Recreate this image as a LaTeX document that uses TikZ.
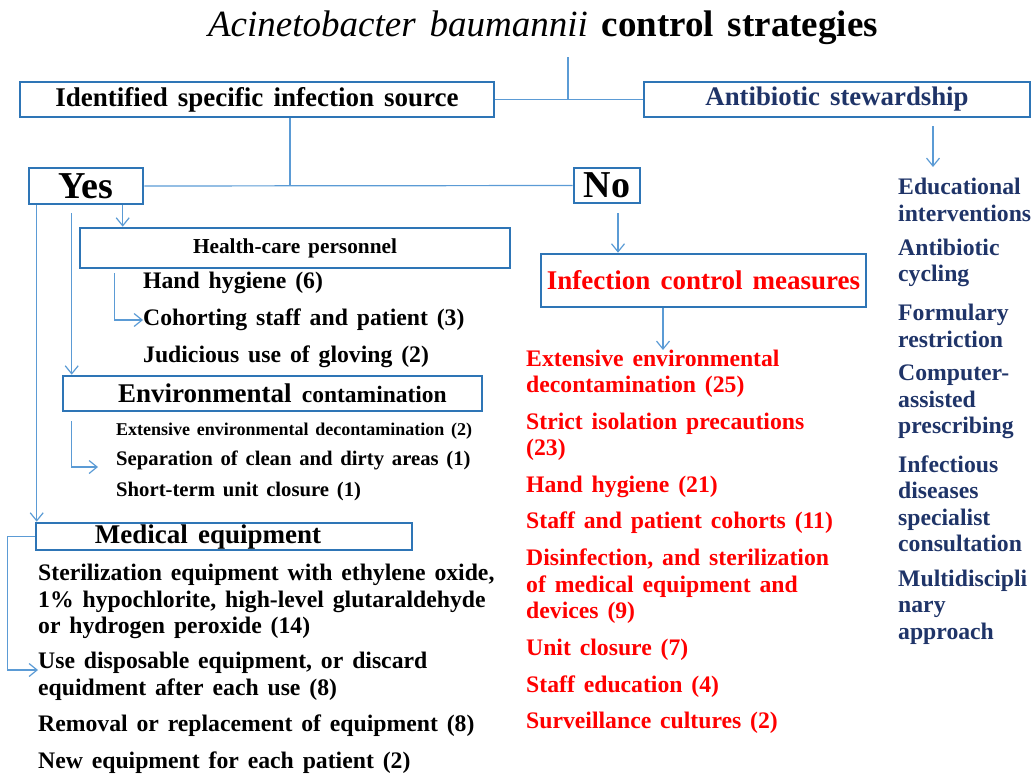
\documentclass[tikz,border=0pt]{standalone}
\usepackage{fontspec}
\setmainfont{Liberation Serif}[WordSpace=1.5]
\usetikzlibrary{positioning,arrows.meta}
\definecolor{boxblue}{HTML}{2E75B6}
\definecolor{lineblue}{HTML}{5B9BD5}
\definecolor{navy}{HTML}{1F3468}
\definecolor{alert}{HTML}{FF0000}

\begin{document}
\begin{tikzpicture}[x=1pt,y=-1pt,
    box/.style={rectangle,draw=boxblue,line width=2.6pt,fill=white,
		inner sep=0pt,font=\bfseries},
    link/.style={draw=lineblue,line width=1.2pt},
    arr/.style={link,-{Straight Barb[length=8pt,width=13pt,line width=1.2pt]}},
% list entries
    entry/.style={anchor=west,align=left,inner sep=0pt,
		font=\bfseries\fontsize{23.7}{26.5}\selectfont},
    small/.style={entry,font=\bfseries\fontsize{20.7}{24}\selectfont},
    redentry/.style={entry,text=alert},
    blueentry/.style={entry,text=navy}
    ]
   \useasboundingbox (0,0) rectangle (1032,776);

%%% title and first level
   \node [inner sep=0pt] (ttl) at (543,28)
      {\fontsize{37}{40}\selectfont\textit{Acinetobacter baumannii} \textbf{control strategies}};
   \node [box,minimum width=474pt,minimum height=35pt] (src) at (257,99.5)
      {\fontsize{27}{30}\selectfont Identified specific infection source};
   \node [box,minimum width=386pt,minimum height=35pt,text=navy] (abx) at (837,99.5)
      {\fontsize{26.8}{30}\selectfont Antibiotic stewardship};
   \coordinate (hub) at (568,99.5);
   \draw [link] (hub) -- ++(0,-42);
   \draw [link] (src.east) -- (abx.west);

%%% yes / no
   \node [box,minimum width=114pt,minimum height=36pt] (yes) at (86,186)
      {\fontsize{38}{40}\selectfont Yes};
   \node [box,minimum width=66pt,minimum height=35pt] (no) at (607,185.5)
      {\fontsize{38}{40}\selectfont No};
   \coordinate (split) at (290,186);
   \draw [link] (src.south -| split) -- (split);
   \draw [link] (yes.east) -- (no.west);

%%% yes branch
   \node [box,minimum width=430pt,minimum height=40pt] (hcp) at (295,248)
      {\fontsize{21.3}{24}\selectfont Health-care personnel};
   \node [entry] (hh1) at (143,283) {Hand hygiene (6)};
   \node [entry] (hh2) at (143,320) {Cohorting staff and patient (3)};
   \node [entry] (hh3) at (143,357) {Judicious use of gloving (2)};

   \node [box,minimum width=419pt,minimum height=35pt] (env) at (272.5,393.5)
      {\hspace*{20pt}\fontsize{27}{30}\selectfont Environmental \fontsize{23.5}{28}\selectfont contamination};
   \node [small,font=\bfseries\fontsize{18}{20}\selectfont] (ec1) at (116,431)
      {Extensive environmental decontamination (2)};
   \node [small] (ec2) at (116,460) {Separation of clean and dirty areas (1)};
   \node [small] (ec3) at (116,492) {Short-term unit closure (1)};

   \node [box,minimum width=376pt,minimum height=27pt] (med) at (224,536.5)
      {\fontsize{27}{30}\selectfont\hspace*{-32pt}Medical equipment};
   \node [entry] (md1) at (38,601.5)
      {Sterilization equipment with ethylene oxide,\\1\% hypochlorite, high-level glutaraldehyde\\or hydrogen peroxide (14)};
   \node [entry] (md2) at (38,676.5)
      {Use disposable equipment, or discard\\equidment after each use (8)};
   \node [entry] (md3) at (38,726) {Removal or replacement of equipment (8)};
   \node [entry] (md4) at (38,763) {New equipment for each patient (2)};

   \draw [arr] ([xshift=9pt]yes.south west) -- ([xshift=9pt]yes.south west |- med.north);
   \draw [arr] ([xshift=44pt,yshift=-8pt]yes.south west) -- ([xshift=44pt]yes.south west |- env.north);
   \draw [arr] ([xshift=95pt]yes.south west) -- ([xshift=95pt]yes.south west |- hcp.north);
   \draw [arr] ([xshift=36pt,yshift=-4pt]hcp.south west) |- (hh2.west);
   \draw [arr] ([xshift=10pt,yshift=-9pt]env.south west) |- ([xshift=-18pt,yshift=-7pt]ec2.west);
   \draw [arr] (med.west) -- ++(-27,0) |- ([yshift=6.5pt]md2.west);

%%% no branch
   \node [box,minimum width=325pt,minimum height=53pt,text=alert] (icm) at (703.5,280.5)
      {\fontsize{27}{30}\selectfont Infection control measures};
   \draw [arr] ([xshift=11pt,yshift=-9pt]no.south) -- ([xshift=11pt]no.south |- icm.north);
   \coordinate (redtop) at (663,350);
   \draw [arr] (icm.south -| redtop) -- (redtop);

   \node [redentry] (r1) at (526,374) {Extensive environmental\\decontamination (25)};
   \node [redentry] (r2) at (526,437) {Strict isolation precautions\\(23)};
   \node [redentry] (r3) at (526,487) {Hand hygiene (21)};
   \node [redentry] (r4) at (526,523) {Staff and patient cohorts (11)};
   \node [redentry] (r5) at (526,586.5) {Disinfection, and sterilization\\of medical equipment and\\devices (9)};
   \node [redentry] (r6) at (526,650) {Unit closure (7)};
   \node [redentry] (r7) at (526,687) {Staff education (4)};
   \node [redentry] (r8) at (526,723) {Surveillance cultures (2)};

%%% stewardship branch
   \coordinate (bluetop) at (933,167);
   \draw [arr] ([yshift=-8pt]abx.south -| bluetop) -- (bluetop);
   \node [blueentry] (b1) at (898,200) {Educational\\interventions};
   \node [blueentry] (b2) at (898,263) {Antibiotic\\cycling};
   \node [blueentry] (b3) at (898,326) {Formulary\\restriction};
   \node [blueentry] (b4) at (898,402) {Computer-\\assisted\\prescribing};
   \node [blueentry] (b5) at (898,504) {Infectious\\diseases\\specialist\\consultation};
   \node [blueentry] (b6) at (898,607) {Multidiscipli\\nary\\approach};
\end{tikzpicture}
\end{document}
